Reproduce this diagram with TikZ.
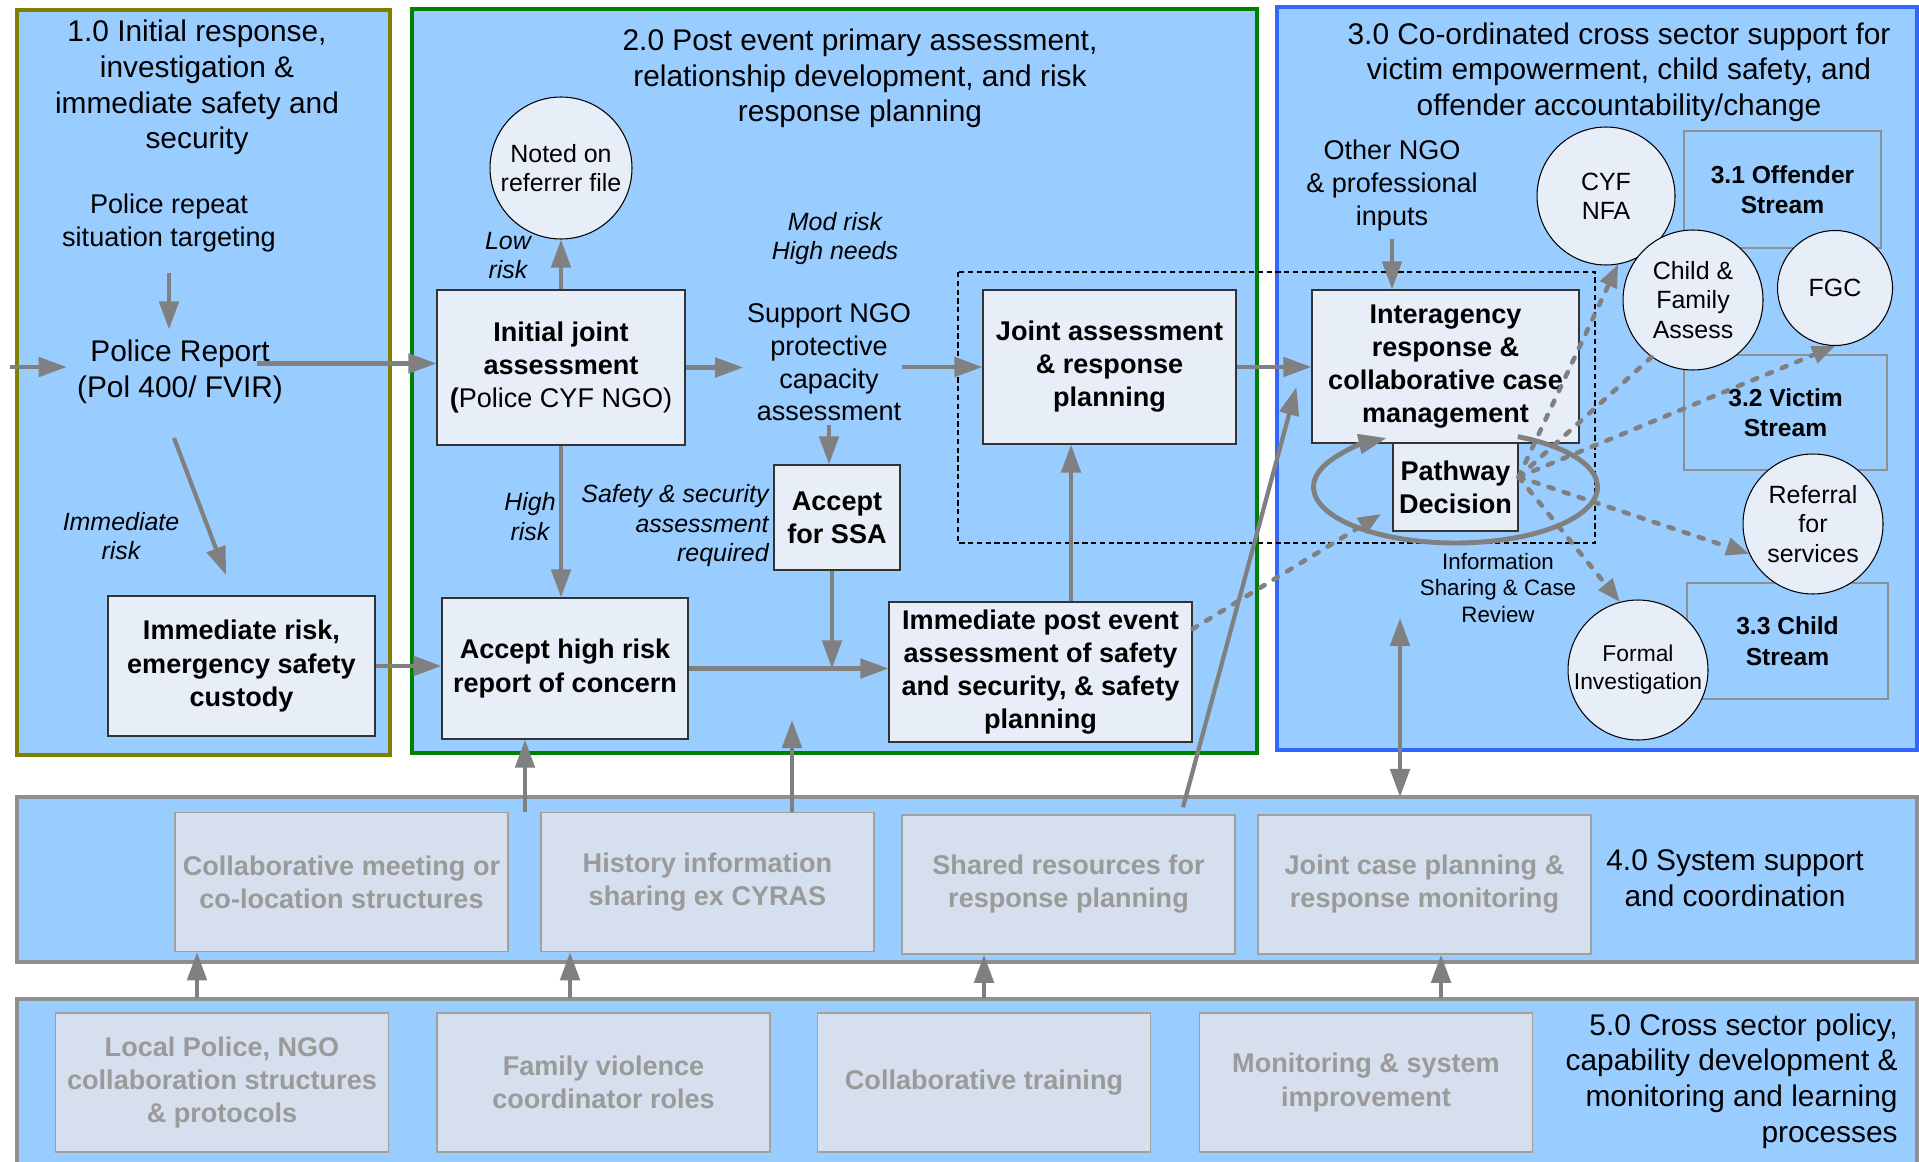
\documentclass[tikz,border=0pt]{standalone}
\usepackage{fontspec}
\setmainfont{Liberation Sans}
\usetikzlibrary{arrows.meta,calc}

\definecolor{panelblue}{HTML}{99CCFF}
\definecolor{boxfill}{HTML}{E8EEF8}
\definecolor{sysfill}{HTML}{D6DFEE}
\definecolor{systext}{HTML}{9A9A9A}
\definecolor{sysline}{HTML}{A0A0A0}
\definecolor{arrgray}{HTML}{808080}
\definecolor{olivebd}{HTML}{808000}
\definecolor{greenbd}{HTML}{008000}
\definecolor{bluebd}{HTML}{3366FF}
\definecolor{greybd}{HTML}{8F8F8F}

\begin{document}
\begin{tikzpicture}
[x=0.02cm, y=-0.02cm,
every node/.style={align=center, inner sep=0pt},
panel/.style={fill=panelblue, line width=2.8pt},
procbox/.style={draw=black!80, fill=boxfill, line width=0.7pt, font=\fontsize{15.4}{18.8}\selectfont\bfseries},
sysbox/.style={draw=sysline, fill=sysfill, line width=0.9pt, minimum width=6.66cm, minimum height=2.78cm, text=systext, font=\fontsize{15.4}{18.8}\selectfont\bfseries},
bubble/.style={circle, draw=black, fill=boxfill, line width=0.6pt, font=\fontsize{14.2}{16.7}\selectfont},
stream/.style={draw=greybd, line width=0.8pt, font=\fontsize{14}{17.4}\selectfont\bfseries},
paneltitle/.style={font=\fontsize{17}{20.3}\selectfont},
txt/.style={font=\fontsize{15.4}{18.6}\selectfont},
lbl/.style={font=\fontsize{14.2}{16.8}\selectfont\itshape},
infotxt/.style={font=\fontsize{12.7}{15}\selectfont},
arr/.style={draw=arrgray, line width=2.4pt, -{Triangle[length=16pt,width=11pt]}},
dasharr/.style={draw=arrgray, line width=2.6pt, dash pattern=on 3pt off 6pt, line cap=round, -{Triangle[length=13pt,width=10pt]}},
]
\useasboundingbox (0,0) rectangle (1919,1162);
\clip (0,0) rectangle (1919,1162);
\fill[white] (0,0) rectangle (1919,1162);

% panels
\draw[panel, draw=olivebd] (17,10) rectangle (390,755);
\draw[panel, draw=greenbd] (412,9) rectangle (1257,753);
\draw[panel, draw=bluebd] (1277,7) rectangle (1917,750);
\draw[panel, draw=greybd] (17,797) rectangle (1917,962);
\draw[panel, draw=greybd] (17,999) rectangle (1917,1175);
\draw[black, line width=0.6pt, dash pattern=on 3pt off 2pt] (958,272) rectangle (1595,543);

% 1.0
\node[paneltitle] (t1) at (197,87.5) {1.0 Initial response,\\investigation \&\\immediate safety and\\security};
\node[txt] (repeat) at (169,223) {Police repeat\\situation targeting};
\node[paneltitle, inner sep=0.2cm] (report) at (180,371.5) {Police Report\\(Pol 400/ FVIR)};
\node[lbl] (immlbl) at (121,536) {Immediate\\risk};
\node[procbox, minimum width=5.34cm, minimum height=2.8cm] (immrisk) at (241.5,666) {Immediate risk,\\emergency safety\\custody};

% 2.0
\node[paneltitle] (t2) at (860,78.5) {2.0 Post event primary assessment,\\relationship development, and risk\\response planning};
\node[bubble, minimum size=2.84cm] (noted) at (561,168) {Noted on\\referrer file};
\node[lbl] (lowlbl) at (508,255.5) {Low\\risk};
\node[procbox, minimum width=4.96cm, minimum height=3.1cm] (initjoint) at (561,367.5) {Initial joint\\assessment\\(\mdseries Police CYF NGO)};
\node[lbl] (modlbl) at (835,238.5) {Mod risk\\High needs};
\node[txt, inner sep=2pt] (support) at (829,362.5) {Support NGO\\protective\\capacity\\assessment};
\node[procbox, minimum width=2.52cm, minimum height=2.1cm] (acceptssa) at (837,517.5) {Accept\\for SSA};
\node[lbl, anchor=east, align=right] (safelbl) at (769,526) {Safety \& security\\assessment\\required};
\node[lbl] (highlbl) at (530,516.5) {High\\risk};
\node[procbox, minimum width=4.92cm, minimum height=2.82cm] (accepthigh) at (565,668.5) {Accept high risk\\report of concern};
\node[procbox, minimum width=6.06cm, minimum height=2.8cm] (immpost) at (1040.5,672) {Immediate post event\\assessment of safety\\and security, \& safety\\planning};
\node[procbox, minimum width=5.06cm, minimum height=3.08cm] (jointassess) at (1109.5,367) {Joint assessment\\\& response\\planning};

% 3.0
\node[paneltitle] (t3) at (1619,72) {3.0 Co-ordinated cross sector support for\\victim empowerment, child safety, and\\offender accountability/change};
\node[txt, inner sep=0.15cm] (othern) at (1392,185.5) {Other NGO\\\& professional\\inputs};
\node[procbox, minimum width=5.34cm, minimum height=3.06cm] (interagency) at (1445.5,366.5) {Interagency\\response \&\\collaborative case\\management};
\node[procbox, minimum width=2.5cm, minimum height=1.76cm] (pathway) at (1455.5,487) {Pathway\\Decision};
\node[infotxt] (info) at (1498,588) {Information\\Sharing \& Case\\Review};
\node[stream, minimum width=3.94cm, minimum height=2.34cm] (offstream) at (1782.5,189.5) {3.1 Offender\\Stream};
\node[stream, minimum width=4.06cm, minimum height=2.3cm] (vicstream) at (1785.5,412.5) {3.2 Victim\\Stream};
\node[stream, minimum width=4.02cm, minimum height=2.32cm] (chistream) at (1787.5,641) {3.3 Child\\Stream};
\node[bubble, minimum size=2.76cm] (cyf) at (1606,196) {CYF\\NFA};
\node[bubble, minimum size=2.8cm] (cfa) at (1693,300) {Child \&\\Family\\Assess};
\node[bubble, minimum size=2.3cm] (fgc) at (1835,288) {FGC};
\node[bubble, minimum size=2.8cm] (referral) at (1813,524) {Referral\\for\\services};
\node[bubble, minimum size=2.8cm, font=\fontsize{13}{16}\selectfont] (formal) at (1638,670) {Formal\\Investigation};

% 4.0 and 5.0
\node[sysbox] (collab) at (341.5,882) {Collaborative meeting or\\co-location structures};
\node[sysbox] (history) at (707.5,882) {History information\\sharing ex CYRAS};
\node[sysbox] (shared) at (1068.5,884.5) {Shared resources for\\response planning};
\node[sysbox] (jointcase) at (1424.5,884.5) {Joint case planning \&\\response monitoring};
\node[paneltitle] (t4) at (1735,878) {4.0 System support\\and coordination};
\node[sysbox] (local) at (222,1082.5) {Local Police, NGO\\collaboration structures\\\& protocols};
\node[sysbox] (family) at (603.5,1082.5) {Family violence\\coordinator roles};
\node[sysbox] (training) at (984,1082.5) {Collaborative training};
\node[sysbox] (monitoring) at (1366,1082.5) {Monitoring \& system\\improvement};
\node[paneltitle, anchor=east, align=right] (t5) at (1898,1081) {5.0 Cross sector policy,\\capability development \&\\monitoring and learning\\processes};

% connectors
\coordinate (entry) at (10,367);
\coordinate (rpout) at ([shift={(77,-8)}]report.center);
\draw[arr] (entry) -- (entry -| report.west);
\draw[arr, shorten <=12pt] (repeat.south) -- (repeat.south |- report.north);
\draw[arr] (rpout) -- (rpout -| initjoint.west);
\draw[arr] ([shift={(-6,66.5)}]report.center) -- ([shift={(-15.5,-91)}]immrisk.center);
\draw[arr] (immrisk.east) -- (immrisk.east -| accepthigh.west);
\draw[arr] (initjoint.north) -- (noted.south);
\draw[arr] (initjoint.south) -- (initjoint.south |- accepthigh.north);
\draw[arr] (initjoint.east) -- (initjoint.east -| support.west);
\draw[arr] ($(support.east |- jointassess.west)+(-13,0)$) -- (jointassess.west);
\draw[arr] (support.south) -- (support.south |- acceptssa.north);
\draw[arr] ($(acceptssa.south)+(-5,0)$) -- ($(acceptssa.south |- accepthigh.east)+(-5,0)$);
\draw[arr] (accepthigh.east) -- (accepthigh.east -| immpost.west);
\draw[arr] ($(immpost.north)+(30.5,0)$) -- ($(immpost.north |- jointassess.south)+(30.5,0)$);
\draw[arr] (jointassess.east) -- (jointassess.east -| interagency.west);
\draw[arr] (othern.south) -- (othern.south |- interagency.north);
\draw[arr, line width=2.8pt] ([shift={(64:2.84cm and 1.12cm)}]pathway.center) arc[start angle=64, end angle=-241, x radius=2.84cm, y radius=1.12cm];

\coordinate (pwout) at ([yshift=0.2cm]pathway.east);
\draw[dasharr] ([yshift=0.86cm]immpost.east) -- ([shift={(-74.5,27)}]pathway.center);
\draw[dasharr] (pwout) -- (cyf.-80);
\draw[dasharr, -] (pwout) -- (cfa.-126);
\draw[dasharr] (pwout) -- (fgc.south);
\draw[dasharr] (pwout) -- (referral.205);
\draw[dasharr] (pwout) -- (formal.105);

\coordinate (histup) at (792,720);
\coordinate (infoup) at (1400,618);
\coordinate (p4top) at (17,797);
\draw[arr] ($(accepthigh.south |- collab.north)+(-40,0)$) -- ($(accepthigh.south)+(-40,0)$);
\draw[arr] (histup |- history.north) -- (histup);
\draw[arr] ([shift={(114.5,-7)}]shared.north) -- ([shift={(-15,20.5)}]interagency.west);
\draw[arr, {Triangle[length=16pt,width=11pt]}-{Triangle[length=16pt,width=11pt]}] (infoup |- p4top) -- (infoup);
\foreach \src/\dst/\dx in {local/collab/-25, family/history/-33.5, training/shared/0, monitoring/jointcase/75}
  \draw[arr, shorten <=0.28cm] ($(\src.north)+(\dx,0)$) -- ($(\src.north |- \dst.south)+(\dx,0)$);
\end{tikzpicture}
\end{document}
